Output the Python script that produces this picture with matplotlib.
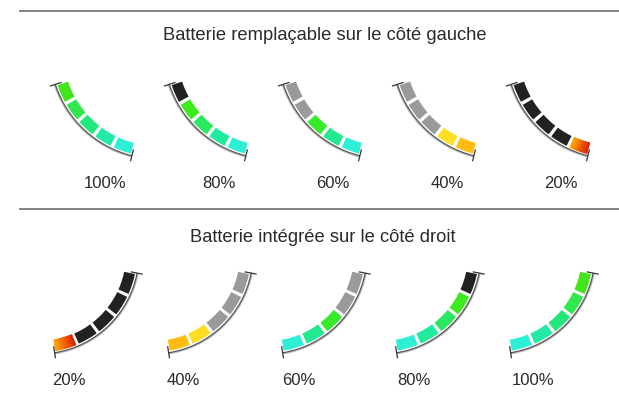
import numpy as np
import matplotlib
matplotlib.use("Agg")
from matplotlib import pyplot as plt
from matplotlib.patches import Wedge, Arc
from matplotlib.colors import to_rgb

plt.rcParams['font.family'] = ['Liberation Sans', 'DejaVu Sans']

# data
titles = ["Batterie remplaçable sur le côté gauche", "Batterie intégrée sur le côté droit"]
top_labels = ["100%", "80%", "60%", "40%", "20%"]
bottom_labels = ["20%", "40%", "60%", "80%", "100%"]

# segment colours, first = end of the gauge that empties first
top_colors = [
    ["#40e61a", "#30e84c", "#22e87c", "#22eaa8", "#2cefd6"],
    ["#222222", "#3aec1e", "#2ae860", "#22ea9c", "#2cefd6"],
    ["#9a9a9a", "#9a9a9a", "#36ec2a", "#22e890", "#2cefd6"],
    ["#9a9a9a", "#9a9a9a", "#9a9a9a", "#ffdd22", "#ffbb11"],
    ["#222222", "#222222", "#222222", "#222222", "red"],
]
bottom_colors = [
    ["#222222", "#222222", "#222222", "#222222", "red"],
    ["#9a9a9a", "#9a9a9a", "#9a9a9a", "#ffdd22", "#ffbb11"],
    ["#9a9a9a", "#9a9a9a", "#36ec2a", "#22e890", "#2cefd6"],
    ["#222222", "#3aec1e", "#2ae860", "#22ea9c", "#2cefd6"],
    ["#40e61a", "#30e84c", "#22e87c", "#22eaa8", "#2cefd6"],
]

fig = plt.figure(figsize=(6.19, 4.06), dpi=100)
ax = fig.add_axes([0, 0, 1, 1])
ax.set_xlim(0, 619)
ax.set_ylim(406, 0)
ax.axis("off")


def seg(cx, cy, r1, r2, t1, t2, col):
    if col == "red":
        # red at the low-angle end, orange further in
        c1 = np.array(to_rgb("#dd2200"))
        c2 = np.array(to_rgb("#ffa000"))
        n = 10
        ts = np.linspace(t1, t2, n + 1)
        for k in range(n):
            f = k / (n - 1)
            c = tuple(c1 * (1 - f) + c2 * f)
            ax.add_patch(Wedge((cx, cy), r2, ts[k], ts[k + 1], width=r2 - r1,
                               fc=c, ec=c, lw=0.6))
    else:
        ax.add_patch(Wedge((cx, cy), r2, t1, t2, width=r2 - r1, fc=col, ec="none"))


def gauge(cx, cy, R, a_full, a_empty, colors):
    # a_full: angle of the end that stays lit longest, a_empty: other end
    lo, hi = min(a_full, a_empty), max(a_full, a_empty)
    ax.add_patch(Arc((cx, cy), 2 * (R + 1.0), 2 * (R + 1.0), theta1=lo, theta2=hi,
                     color="#c0c0c0", lw=1.0))
    ax.add_patch(Arc((cx, cy), 2 * R, 2 * R, theta1=lo, theta2=hi, color="#555555", lw=0.9))
    for a in (lo, hi):
        t = np.radians(a)
        ax.plot([cx + (R - 6) * np.cos(t), cx + (R + 5) * np.cos(t)],
                [cy + (R - 6) * np.sin(t), cy + (R + 5) * np.sin(t)],
                color="#333333", lw=0.9)
    n = len(colors)
    gap = 1.9
    edges = np.linspace(a_empty, a_full, n + 1)
    for k in range(n):
        s, e = sorted([edges[k], edges[k + 1]])
        if k == 0:
            s, e = (s + 0.8, e - gap / 2) if a_empty < a_full else (s + gap / 2, e - 0.8)
        elif k == n - 1:
            s, e = (s + gap / 2, e - 0.8) if a_empty < a_full else (s + 0.8, e - gap / 2)
        else:
            s, e = s + gap / 2, e - gap / 2
        seg(cx, cy, R - 13, R - 2, s, e, colors[k])


# separator lines
ax.plot([20, 619], [12, 12], color="#7a7a7a", lw=1.3)
ax.plot([20, 619], [210, 210], color="#7a7a7a", lw=1.3)

ax.text(325, 35, titles[0], ha="center", va="center", fontsize=13.2, color="#2a2a2a")
ax.text(323, 238, titles[1], ha="center", va="center", fontsize=13.2, color="#2a2a2a")

for i in range(5):
    gauge(158 + 114 * i, 52, 108, 104, 162, top_colors[i])
    ax.text(105 + 114 * i, 184, top_labels[i], ha="center", va="center", fontsize=12,
            color="#2a2a2a")

for i in range(5):
    gauge(39 + 114 * i, 255, 100, 81, 11, bottom_colors[i])
    ax.text(52 + 115 * i, 381, bottom_labels[i], ha="left", va="center", fontsize=12,
            color="#2a2a2a")

fig.savefig("out.png", dpi=100)
